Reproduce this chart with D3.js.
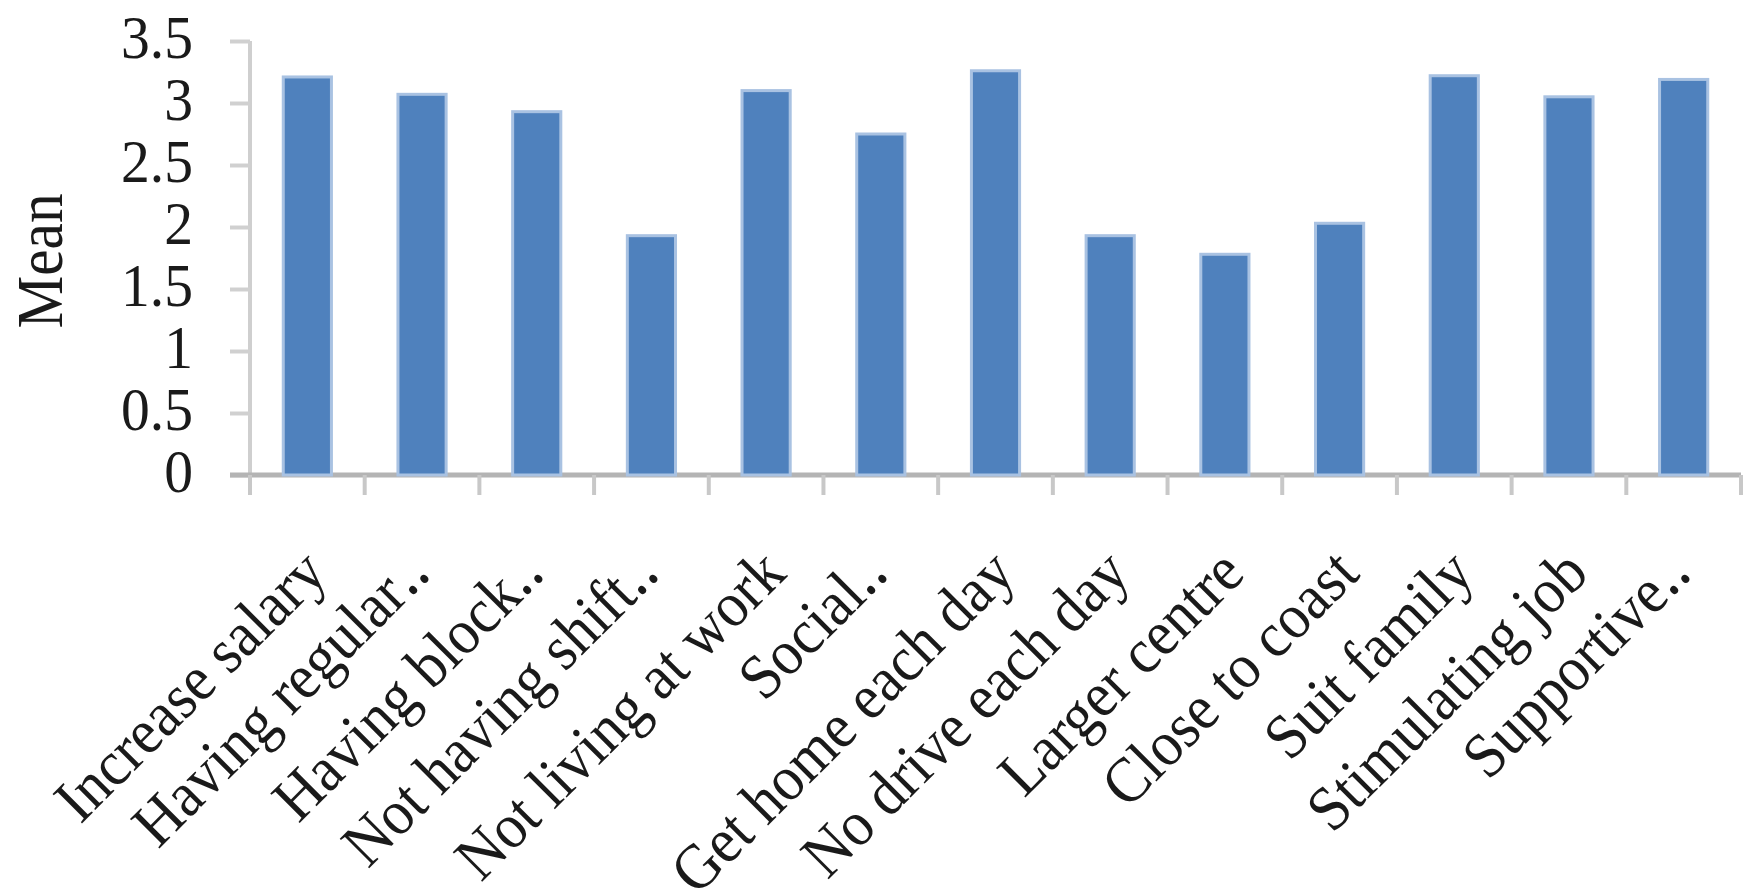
<!DOCTYPE html>
<html>
<head>
<meta charset="utf-8">
<script src="https://cdn.jsdelivr.net/npm/d3@7"></script>
<style>
  body { margin: 0; background: #fff; }
  text { font-family: "Liberation Serif", "Times New Roman", serif; fill: #1a1a1a; }
</style>
</head>
<body>
<div class="container"></div>
<script>
const width = 1754;
const height = 893;

const categories = ['Increase salary', 'Having regular\u2025', 'Having block\u2025', 'Not having shift\u2025',
    'Not living at work', 'Social\u2025', 'Get home each day', 'No drive each day',
    'Larger centre', 'Close to coast', 'Suit family', 'Stimulating job', 'Supportive\u2025'];
const means = [3.21, 3.07, 2.93, 1.93, 3.1, 2.75, 3.26, 1.93, 1.78, 2.03, 3.22, 3.05, 3.19];
const yTicks = [0, 0.5, 1, 1.5, 2, 2.5, 3, 3.5];

const plotLeft = 250, plotRight = 1741, plotTop = 41, plotBottom = 475;

const svg = d3.select('.container')
    .append('svg')
    .attr('width', width)
    .attr('height', height);

const xScale = d3.scaleBand()
    .domain(categories)
    .range([plotLeft, plotRight])
    .paddingInner(0.58)
    .paddingOuter(0.29);

const yScale = d3.scaleLinear()
    .domain([0, 3.5])
    .range([plotBottom, plotTop]);

// y axis
const yAxis = svg.append('g')
    .attr('transform', `translate(${plotLeft},0)`)
    .call(d3.axisLeft(yScale).tickValues(yTicks).tickSize(20).tickFormat(d3.format('')));
yAxis.select('.domain').attr('stroke', '#cfcfcf').attr('stroke-width', 4).attr('d', `M0,${plotTop}V${plotBottom}`);
yAxis.selectAll('.tick line').attr('stroke', '#d0d0d0').attr('stroke-width', 4);
yAxis.selectAll('.tick text')
    .attr('x', 0)
    .attr('dy', '0.27em')
    .attr('transform', 'translate(-57,0) scale(0.93,1)')
    .attr('font-size', 62)
    .attr('font-family', '"Liberation Serif", serif')
    .attr('fill', '#1a1a1a');

// x axis, ticks between the bands
const edges = categories.map(c => xScale(c) - xScale.step() * xScale.paddingInner() / 2);
edges[0] = plotLeft;
edges.push(plotRight);

svg.append('line')
    .attr('x1', plotLeft - 20).attr('x2', plotRight)
    .attr('y1', plotBottom).attr('y2', plotBottom)
    .attr('stroke', '#b4b4b4').attr('stroke-width', 5);

svg.selectAll('.xtick')
    .data(edges)
    .enter()
    .append('line')
    .attr('class', 'xtick')
    .attr('x1', d => d).attr('x2', d => d)
    .attr('y1', plotBottom).attr('y2', plotBottom + 20)
    .attr('stroke', '#c8c8c8').attr('stroke-width', 4);

// bars
svg.selectAll('rect.bar')
    .data(means)
    .enter()
    .append('rect')
    .attr('class', 'bar')
    .attr('x', (d, i) => xScale(categories[i]))
    .attr('y', d => yScale(d))
    .attr('width', xScale.bandwidth())
    .attr('height', d => plotBottom - yScale(d))
    .attr('fill', '#4f81bd')
    .attr('stroke', '#a9c2e2')
    .attr('stroke-width', 3);

// category labels (truncated ones end with two dots)
svg.selectAll('text.cat')
    .data(categories)
    .enter()
    .append('text')
    .attr('class', 'cat')
    .attr('text-anchor', 'end')
    .attr('font-size', 59)
    .attr('transform', d => {
        const shift = d.endsWith('\u2025') ? 10 : 22;
        const x = xScale(d) + xScale.bandwidth() / 2 + shift;
        const y = 576;
        return `translate(${x},${y}) rotate(-45) scale(1,1.08)`;
    })
    .text(d => d);

// y label
svg.append('text')
    .attr('text-anchor', 'middle')
    .attr('font-size', 66)
    .attr('transform', 'translate(62,261) rotate(-90) scale(0.9,1)')
    .text('Mean');
</script>
</body>
</html>
